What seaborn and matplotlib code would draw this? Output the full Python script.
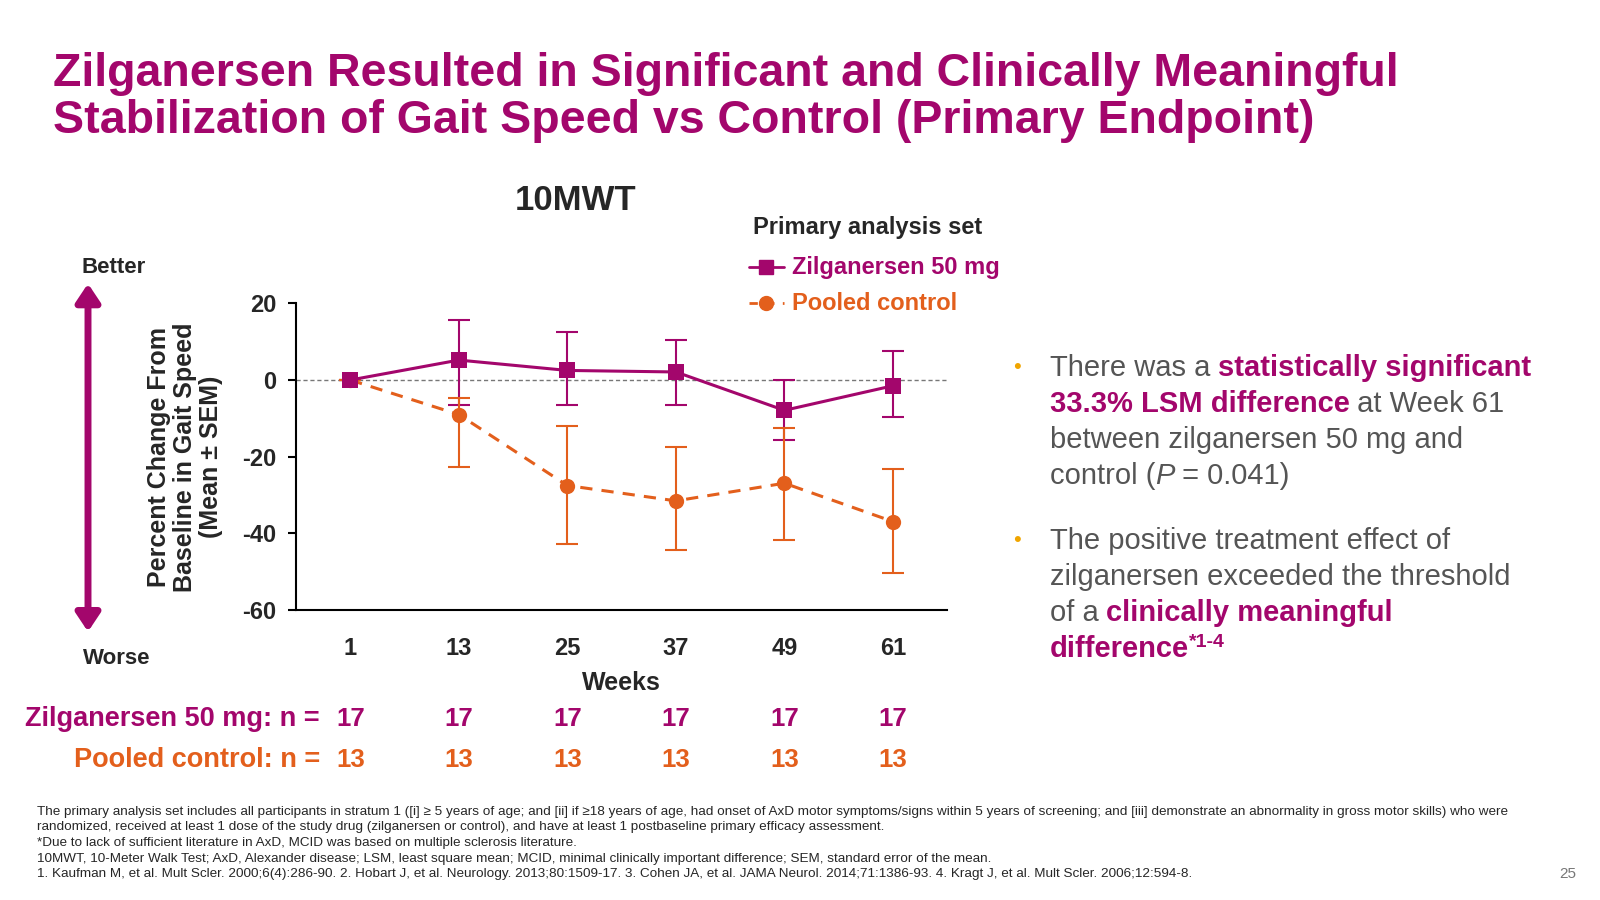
import matplotlib
matplotlib.use("Agg")
import matplotlib.pyplot as plt
import seaborn as sns
import pandas as pd
import numpy as np

weeks = [1, 13, 25, 37, 49, 61]
zil_mean = [0, 5.2, 2.5, 2.1, -7.9, -1.5]
zil_upper = [0, 15.7, 12.6, 10.5, 0.0, 7.6]
zil_lower = [0, -6.6, -6.6, -6.4, -15.7, -9.7]
ctl_mean = [0, -9.0, -27.5, -31.5, -26.9, -36.9]
ctl_upper = [0, -4.6, -12.1, -17.5, -12.5, -23.1]
ctl_lower = [0, -22.8, -42.7, -44.2, -41.7, -50.4]
n_zil = [17, 17, 17, 17, 17, 17]
n_ctl = [13, 13, 13, 13, 13, 13]
y_ticks = [20, 0, -20, -40, -60]

MAG = "#A3066C"
ORG = "#E35F1C"

sns.set_theme(style="white")
plt.rcParams['font.family'] = ['Liberation Sans', 'DejaVu Sans']

fig = plt.figure(figsize=(16, 9), dpi=100)
ax = fig.add_axes([0.185, 0.322, 0.407, 0.341])

df = pd.DataFrame({"week": weeks * 2,
                   "value": zil_mean + ctl_mean,
                   "group": ["Zilganersen 50 mg"] * 6 + ["Pooled control"] * 6})

ax.axhline(0, color="#777777", lw=1, ls=(0, (3, 2)), zorder=1)
zm = np.array(zil_mean); cm = np.array(ctl_mean)
ax.errorbar(weeks, zm, yerr=[zm - np.array(zil_lower), np.array(zil_upper) - zm],
            fmt="none", ecolor=MAG, elinewidth=1.5, capsize=8, capthick=1.5, zorder=2)
ax.errorbar(weeks, cm, yerr=[cm - np.array(ctl_lower), np.array(ctl_upper) - cm],
            fmt="none", ecolor=ORG, elinewidth=1.5, capsize=8, capthick=1.5, zorder=2)
sns.lineplot(data=df[df.group == "Pooled control"], x="week", y="value", ax=ax,
             color=ORG, lw=2.2, ls=(0, (4, 3)), marker="o", markersize=11,
             markeredgewidth=0, zorder=3, label="Pooled control")
sns.lineplot(data=df[df.group == "Zilganersen 50 mg"], x="week", y="value", ax=ax,
             color=MAG, lw=2.2, marker="s", markersize=11, markeredgewidth=0,
             zorder=4, label="Zilganersen 50 mg")
ax.get_legend().remove()

ax.set_xlim(-5, 67)
ax.set_ylim(-60, 20)
ax.set_xticks(weeks)
ax.set_yticks(y_ticks)
ax.set_yticklabels([str(v).replace("\u2212", "-") for v in y_ticks])
ax.set_xticklabels([str(w) for w in weeks])
ax.tick_params(axis="both", labelsize=17, length=6, width=1.5, color="black",
               direction="out", left=True, bottom=False, pad=8)
ax.tick_params(axis="x", pad=13)
for lab in ax.get_xticklabels() + ax.get_yticklabels():
    lab.set_fontweight("bold")
for s in ["top", "right"]:
    ax.spines[s].set_visible(False)
for s in ["left", "bottom"]:
    ax.spines[s].set_color("black"); ax.spines[s].set_linewidth(1.5)
ax.set_xlabel("Weeks", fontsize=18, fontweight="bold", labelpad=8)
ax.set_ylabel("Percent Change From\nBaseline in Gait Speed\n(Mean ± SEM)", fontsize=18,
              fontweight="bold", labelpad=14, linespacing=1.1)

# title
fig.text(0.033, 0.841, "Zilganersen Resulted in Significant and Clinically Meaningful\n"
         "Stabilization of Gait Speed vs Control (Primary Endpoint)",
         fontsize=33.5, fontweight="bold", color=MAG, va="bottom", linespacing=1.1)
fig.text(0.36, 0.767, "10MWT", fontsize=25, fontweight="bold", ha="center")

# legend
fig.text(0.542, 0.74, "Primary analysis set", fontsize=17, fontweight="bold", ha="center")
fig.lines.append(plt.Line2D([0.468, 0.49], [0.703, 0.703], color=MAG, lw=2,
                            transform=fig.transFigure))
fig.lines.append(plt.Line2D([0.479], [0.703], color=MAG, marker="s", ms=10,
                            transform=fig.transFigure))
fig.text(0.495, 0.703, "Zilganersen 50 mg", fontsize=17, fontweight="bold", color=MAG, va="center")
fig.lines.append(plt.Line2D([0.468, 0.49], [0.663, 0.663], color=ORG, lw=2, ls=(0, (3, 3)),
                            transform=fig.transFigure))
fig.lines.append(plt.Line2D([0.479], [0.663], color=ORG, marker="o", ms=10,
                            transform=fig.transFigure))
fig.text(0.495, 0.663, "Pooled control", fontsize=17, fontweight="bold", color=ORG, va="center")

# Better/Worse arrow
fig.text(0.071, 0.697, "Better", fontsize=16, fontweight="bold", ha="center")
fig.text(0.073, 0.262, "Worse", fontsize=16, fontweight="bold", ha="center")
ax.annotate("", xy=(0.055, 0.688), xytext=(0.055, 0.295), xycoords="figure fraction",
            arrowprops=dict(arrowstyle="<|-|>,head_width=0.6,head_length=0.9", color=MAG, lw=5))

# n rows
for i, w in enumerate(weeks):
    x = ax.transData.transform((w, 0))[0] / fig.bbox.width
    fig.text(x, 0.193, str(n_zil[i]), fontsize=18.5, fontweight="bold", color=MAG, ha="center")
    fig.text(x, 0.148, str(n_ctl[i]), fontsize=18.5, fontweight="bold", color=ORG, ha="center")
fig.text(0.2, 0.193, "Zilganersen 50 mg: n =", fontsize=19.5, fontweight="bold", color=MAG, ha="right")
fig.text(0.2, 0.148, "Pooled control: n =", fontsize=19.5, fontweight="bold", color=ORG, ha="right")

# bullets
GR = "#555555"
fs = 21
fig.text(0.633, 0.58, "•", fontsize=16, color="#F0A500", va="bottom")
fig.text(0.633, 0.388, "•", fontsize=16, color="#F0A500", va="bottom")
def line(y, parts):
    x = 0.656
    r = fig.canvas.get_renderer()
    for txt, col, wt, st in parts:
        t = fig.text(x, y, txt, fontsize=fs, color=col, fontweight=wt, style=st, va="bottom")
        bb = t.get_window_extent(renderer=r)
        x += bb.width / fig.bbox.width
    return x
line(0.575, [("There was a ", GR, "normal", "normal"), ("statistically significant", MAG, "bold", "normal")])
line(0.535, [("33.3% LSM difference", MAG, "bold", "normal"), (" at Week 61", GR, "normal", "normal")])
line(0.495, [("between zilganersen 50 mg and", GR, "normal", "normal")])
line(0.455, [("control (", GR, "normal", "normal"), ("P", GR, "normal", "italic"), (" = 0.041)", GR, "normal", "normal")])
line(0.383, [("The positive treatment effect of", GR, "normal", "normal")])
line(0.343, [("zilganersen exceeded the threshold", GR, "normal", "normal")])
line(0.303, [("of a ", GR, "normal", "normal"), ("clinically meaningful", MAG, "bold", "normal")])
xe = line(0.263, [("difference", MAG, "bold", "normal")])
fig.text(xe, 0.277, "*1-4", fontsize=14, color=MAG, fontweight="bold", va="bottom")

# footnotes
foot = ("The primary analysis set includes all participants in stratum 1 ([i] ≥ 5 years of age; and [ii] if ≥18 years of age, had onset of AxD motor symptoms/signs within 5 years of screening; and [iii] demonstrate an abnormality in gross motor skills) who were\n"
        "randomized, received at least 1 dose of the study drug (zilganersen or control), and have at least 1 postbaseline primary efficacy assessment.\n"
        "*Due to lack of sufficient literature in AxD, MCID was based on multiple sclerosis literature.\n"
        "10MWT, 10-Meter Walk Test; AxD, Alexander disease; LSM, least square mean; MCID, minimal clinically important difference; SEM, standard error of the mean.\n"
        "1. Kaufman M, et al. Mult Scler. 2000;6(4):286-90. 2. Hobart J, et al. Neurology. 2013;80:1509-17. 3. Cohen JA, et al. JAMA Neurol. 2014;71:1386-93. 4. Kragt J, et al. Mult Scler. 2006;12:594-8.")
fig.text(0.023, 0.022, foot, fontsize=9.7, va="bottom", linespacing=1.4)
fig.text(0.985, 0.025, "25", fontsize=11, color="#777777", ha="right")

fig.savefig("out.png", dpi=100)
